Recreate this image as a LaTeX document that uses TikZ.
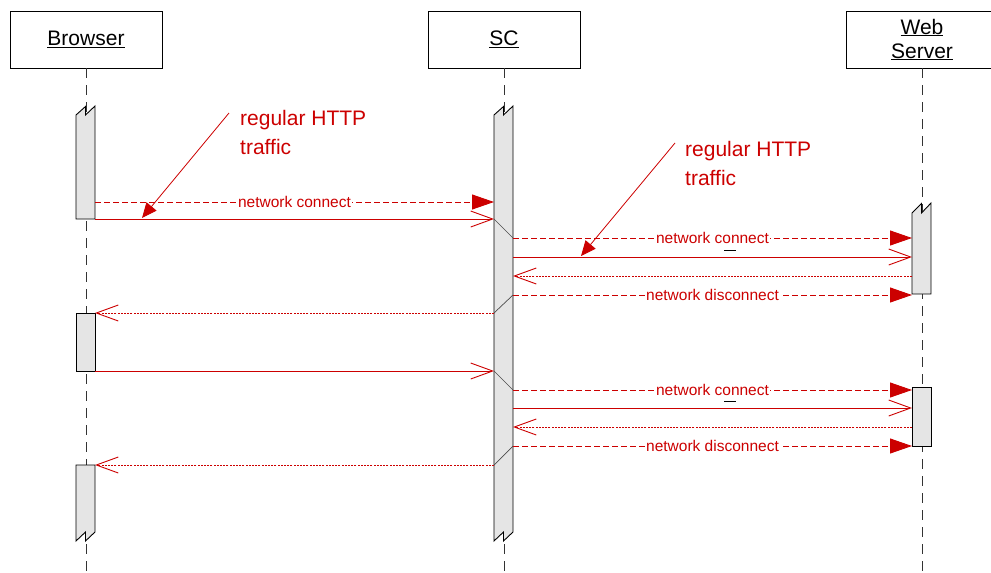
\documentclass[tikz,border=0pt]{standalone}
\usepackage{fontspec}
\setmainfont{Liberation Sans}
\usetikzlibrary{arrows.meta}
\definecolor{msgred}{RGB}{204,0,0}
\tikzset{
  head/.style={draw,fill=white,line width=0.8pt,minimum width=152pt,minimum height=57pt,inner sep=0pt,align=center,font=\fontsize{21}{25}\selectfont},
  life/.style={draw=black!80,line width=0.8pt,dash pattern=on 10pt off 7pt},
  bar/.style={draw=black,fill=black!10,line width=0.9pt},
  call/.style={draw=msgred,line width=0.9pt,dash pattern=on 6pt off 3pt,-{Triangle[length=22pt,width=15pt]}},
  send/.style={draw=msgred,line width=0.9pt,-{Straight Barb[length=22pt,width=16pt]}},
  back/.style={send,dash pattern=on 2pt off 1.2pt},
  msglabel/.style={fill=white,text=msgred,inner sep=1pt,font=\fontsize{15.5}{18}\selectfont},
  note/.style={text=msgred,align=left,anchor=north west,inner sep=0pt,font=\fontsize{21}{29}\selectfont},
  pointer/.style={draw=msgred,line width=0.8pt,-{Triangle[length=15pt,width=13pt]}},
}

\begin{document}
\begin{tikzpicture}[x=1pt,y=-1pt]
	\useasboundingbox (0,0) rectangle (991,573);

	% lifelines
	\node[head] (browser) at (86,39.5) {\underline{Browser}};
	\node[head] (sc) at (504,39.5) {\underline{SC}};
	\node[head] (web) at (922,39.5) {\underline{Web}\\[-1pt]\underline{Server}};
	\coordinate (browserEnd) at (86,573);
	\coordinate (scEnd) at (504,573);
	\coordinate (webEnd) at (922,573);
	\draw[life] (browser.south) -- (browserEnd);
	\draw[life] (sc.south) -- (scEnd);
	\draw[life] (web.south) -- (webEnd);

	% activation bars
	\draw[bar] (76,115) -- (85.5,106.5) -- (85.5,115) -- (95,106) -- (95,219) -- (76,219) -- cycle;
	\draw[bar] (76,313) rectangle (95,371);
	\draw[bar] (95,465) -- (76,465) -- (76,541) -- (85.5,532) -- (85.5,541) -- (95,532) -- cycle;
	\draw[bar] (494,115) -- (503.5,106.5) -- (503.5,115) -- (513,106) -- (513,532) -- (503.5,541) -- (503.5,532) -- (494,541) -- cycle;
	\draw[bar] (912,213) -- (921.5,203.5) -- (921.5,213) -- (931,203) -- (931,294) -- (912,294) -- cycle;
	\draw[bar] (912,387) rectangle (931,446);

	% message rows
	\foreach \n/\y in {1/202,2/219,3/238,4/257,5/276,6/295,7/313,8/371,9/390,10/408,11/427,12/446,13/465}{
		\coordinate (b\n) at (95,\y);
		\coordinate (sl\n) at (494,\y);
		\coordinate (sr\n) at (513,\y);
		\coordinate (w\n) at (912,\y);
	}
	\draw[black!70,line width=0.7pt] (sl2) -- (sr3);
	\draw[black!70,line width=0.7pt] (sr6) -- (sl7);
	\draw[black!70,line width=0.7pt] (sl8) -- (sr9);
	\draw[black!70,line width=0.7pt] (sr12) -- (sl13);

	\draw[call] (b1) -- (sl1) node[midway,msglabel] {network connect};
	\draw[send] (b2) -- (sl2);
	\draw[call] (sr3) -- (w3) node[midway,msglabel] {network connect};
	\draw[send] (sr4) -- (w4);
	\node[inner sep=0pt] (dash1) at (730,250.5) {\rule{12pt}{1.6pt}};
	\draw[back] (w5) -- (sr5);
	\draw[call] (sr6) -- (w6) node[midway,msglabel] {network disconnect};
	\draw[back] (sl7) -- (b7);
	\draw[send] (b8) -- (sl8);
	\draw[call] (sr9) -- (w9) node[midway,msglabel] {network connect};
	\draw[send] (sr10) -- (w10);
	\node[inner sep=0pt] (dash2) at (730,401.5) {\rule{12pt}{1.6pt}};
	\draw[back] (w11) -- (sr11);
	\draw[call] (sr12) -- (w12) node[midway,msglabel] {network disconnect};
	\draw[back] (sl13) -- (b13);

	% notes
	\node[note] (note1) at (240,110) {regular HTTP\\traffic};
	\node[note] (note2) at (685,141) {regular HTTP\\traffic};
	\coordinate (note1From) at (229,113);
	\coordinate (note1To) at (142,218);
	\coordinate (note2From) at (675,143);
	\coordinate (note2To) at (581,256);
	\draw[pointer] (note1From) -- (note1To);
	\draw[pointer] (note2From) -- (note2To);
\end{tikzpicture}
\end{document}
